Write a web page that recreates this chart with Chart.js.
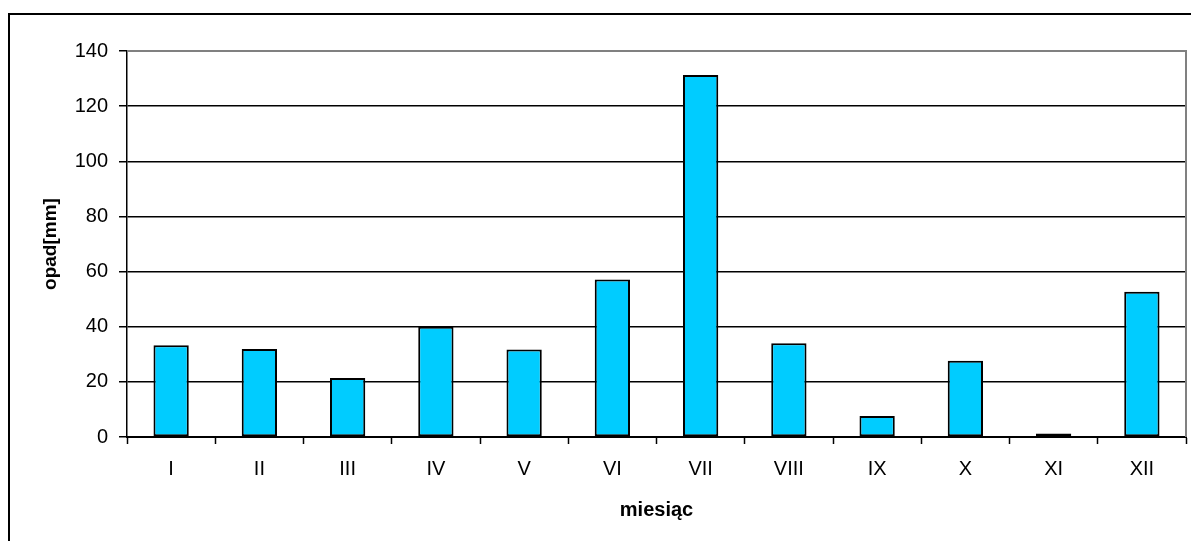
<!DOCTYPE html>
<html lang="pl">
<head>
    <meta charset="UTF-8">
    <title>Opad</title>
    <script src="https://cdn.jsdelivr.net/npm/chart.js@4/dist/chart.umd.min.js"></script>
    <style>
        body { margin: 0; background: #fff; }
    </style>
</head>
<body>
    <canvas id="myChart" width="1191" height="541"></canvas>
    <script>
        // monthly precipitation
        var months = ['I', 'II', 'III', 'IV', 'V', 'VI', 'VII', 'VIII', 'IX', 'X', 'XI', 'XII'];
        var opad = [33.3, 31.9, 21.4, 40.0, 31.7, 57.1, 131.3, 34.0, 7.6, 27.7, 1.3, 52.7];
        var yTicks = [0, 20, 40, 60, 80, 100, 120, 140];

        var font = { family: '"Liberation Sans", Arial, sans-serif', size: 20 };

        // outer frame, white background and gray plot border
        var framePlugin = {
            id: 'frame',
            beforeDraw: function(chart) {
                var ctx = chart.ctx;
                ctx.save();
                ctx.fillStyle = '#fff';
                ctx.fillRect(0, 0, chart.width, chart.height);
                ctx.strokeStyle = '#000';
                ctx.lineWidth = 2;
                ctx.strokeRect(9, 14, chart.width + 20, chart.height + 20);
                ctx.restore();
            },
            afterDatasetsDraw: function(chart) {
                var a = chart.chartArea;
                var ctx = chart.ctx;
                ctx.save();
                ctx.strokeStyle = '#808080';
                ctx.lineWidth = 2;
                ctx.beginPath();
                ctx.moveTo(a.left, a.top);
                ctx.lineTo(a.right, a.top);
                ctx.lineTo(a.right, a.bottom);
                ctx.stroke();
                ctx.restore();
            }
        };

        var ctx = document.getElementById('myChart').getContext('2d');
        var chart = new Chart(ctx, {
            type: 'bar',
            data: {
                labels: months,
                datasets: [{
                    label: 'opad',
                    data: opad,
                    backgroundColor: '#00CCFF',
                    borderColor: '#000',
                    borderWidth: 2,
                    borderSkipped: false,
                    categoryPercentage: 1,
                    barPercentage: 0.4
                }]
            },
            options: {
                responsive: false,
                animation: false,
                layout: { padding: { top: 51, right: 5, left: 0, bottom: 0 } },
                plugins: {
                    legend: { display: false },
                    tooltip: { enabled: false }
                },
                scales: {
                    x: {
                        grid: { drawOnChartArea: false, color: '#000', tickLength: 7, tickWidth: 1.5 },
                        border: { color: '#000', width: 2 },
                        ticks: { color: '#000', font: font, padding: 13 },
                        title: {
                            display: true,
                            text: 'miesiąc',
                            color: '#000',
                            font: { family: font.family, size: 20, weight: 'bold' },
                            padding: { top: 0, bottom: 19 }
                        },
                        afterFit: function(scale) { scale.height = 104; }
                    },
                    y: {
                        min: 0,
                        max: 140,
                        afterBuildTicks: function(scale) {
                            scale.ticks = yTicks.map(function(v) { return { value: v }; });
                        },
                        grid: { color: '#000', lineWidth: 1.5, tickLength: 8 },
                        border: { color: '#000', width: 1.5 },
                        ticks: { color: '#000', font: font, padding: 11 },
                        title: {
                            display: true,
                            text: 'opad[mm]',
                            color: '#000',
                            font: { family: font.family, size: 19, weight: 'bold' },
                            padding: { top: 39, bottom: 0 }
                        },
                        afterFit: function(scale) { scale.width = 127; }
                    }
                }
            },
            plugins: [framePlugin]
        });
    </script>
</body>
</html>
